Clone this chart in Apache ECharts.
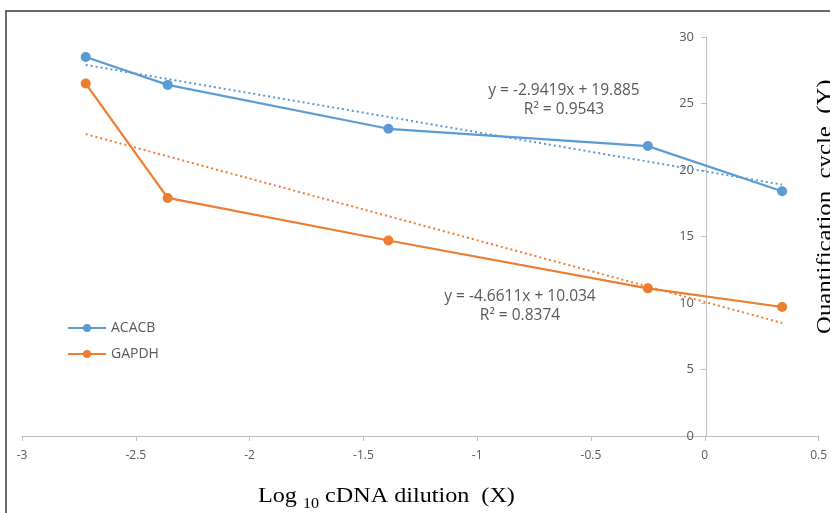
<!DOCTYPE html>
<html>
<head>
<meta charset="utf-8">
<script src="https://cdn.jsdelivr.net/npm/echarts@6/dist/echarts.min.js"></script>
<style>
  html, body { margin: 0; padding: 0; background: #fff; }
  #chart { width: 830px; height: 513px; }
</style>
</head>
<body>
<div id="chart"></div>
<script>
// log10 dilution on x, Cq on y
const dilution = [-2.72, -2.36, -1.39, -0.25, 0.34]
const acacb = [28.5, 26.4, 23.1, 21.8, 18.4]
const gapdh = [26.5, 17.9, 14.7, 11.1, 9.7]
// trendline ends
const acacbTrend = [[-2.72, 27.9], [0.34, 18.9]]
const gapdhTrend = [[-2.72, 22.7], [0.34, 8.5]]
const eqAcacb = ['y = -2.9419x + 19.885', 'R² = 0.9543']
const eqGapdh = ['y = -4.6611x + 10.034', 'R² = 0.8374']

const blue = '#5B9BD5'
const orange = '#ED7D31'
const grey = '#595959'
const font = '"Open Sans", "Noto Sans", sans-serif'
const serif = '"Liberation Serif", serif'

function pairs(xs, ys) {
  return xs.map((x, i) => [x, ys[i]])
}

const chart = echarts.init(document.getElementById('chart'))
chart.setOption({
  animation: false,
  grid: { left: 22, right: 10, top: 37, bottom: 77 },
  xAxis: {
    type: 'value',
    min: -3,
    max: 0.5,
    interval: 0.5,
    splitLine: { show: false },
    axisLine: { lineStyle: { color: '#BFBFBF', width: 1 } },
    axisTick: { show: true, length: 5, lineStyle: { color: '#BFBFBF' } },
    axisLabel: { color: grey, fontFamily: font, fontSize: 12, margin: 14 }
  },
  yAxis: {
    type: 'value',
    min: 0,
    max: 30,
    interval: 5,
    position: 'left',
    offset: -684, // sit the axis on x = 0
    splitLine: { show: false },
    axisLine: { show: true, onZero: false, lineStyle: { color: '#BFBFBF', width: 1 } },
    axisTick: { show: true, length: 5, lineStyle: { color: '#BFBFBF' } },
    axisLabel: { color: grey, fontFamily: font, fontSize: 13, margin: 12 }
  },
  legend: {
    data: ['ACACB', 'GAPDH'],
    orient: 'vertical',
    left: 62,
    top: 316,
    itemWidth: 38,
    itemHeight: 10,
    itemGap: 12,
    textStyle: { color: grey, fontFamily: font, fontSize: 14 }
  },
  series: [
    {
      name: 'ACACB', type: 'line', data: pairs(dilution, acacb),
      symbol: 'circle', symbolSize: 10,
      itemStyle: { color: blue }, lineStyle: { color: blue, width: 2.25 }
    },
    {
      name: 'GAPDH', type: 'line', data: pairs(dilution, gapdh),
      symbol: 'circle', symbolSize: 10,
      itemStyle: { color: orange }, lineStyle: { color: orange, width: 2.25 }
    },
    {
      name: 'ACACB trend', type: 'line', data: acacbTrend, showSymbol: false,
      lineStyle: { color: blue, width: 2, type: [2, 3] }, z: 1
    },
    {
      name: 'GAPDH trend', type: 'line', data: gapdhTrend, showSymbol: false,
      lineStyle: { color: orange, width: 2, type: [2, 3] }, z: 1
    }
  ],
  graphic: [
    {
      type: 'rect', silent: true,
      shape: { x: 6, y: 11, width: 900, height: 600 },
      style: { fill: 'none', stroke: '#3a3a3a', lineWidth: 1.5 }
    },
    {
      type: 'text', x: 564, y: 81,
      style: { text: eqAcacb.join('\n'), fill: grey, font: '15.5px ' + font, align: 'center', lineHeight: 19 }
    },
    {
      type: 'text', x: 520, y: 287,
      style: { text: eqGapdh.join('\n'), fill: grey, font: '15.5px ' + font, align: 'center', lineHeight: 19 }
    },
    {
      type: 'text', x: 258, y: 486, scaleX: 1.15,
      style: {
        text: '{a|Log }{s|10}{a| cDNA dilution  (X)}',
        rich: {
          a: { fontFamily: serif, fontSize: 21, fill: '#000', verticalAlign: 'bottom' },
          s: { fontFamily: serif, fontSize: 14, fill: '#000', verticalAlign: 'bottom', padding: [0, 0, -4, 0] }
        }
      }
    },
    {
      type: 'text', x: 815, y: 334, rotation: Math.PI / 2, scaleX: 1.18,
      style: { text: 'Quantification  cycle  (Y)', fill: '#000', font: '21px ' + serif }
    }
  ]
})
</script>
</body>
</html>
